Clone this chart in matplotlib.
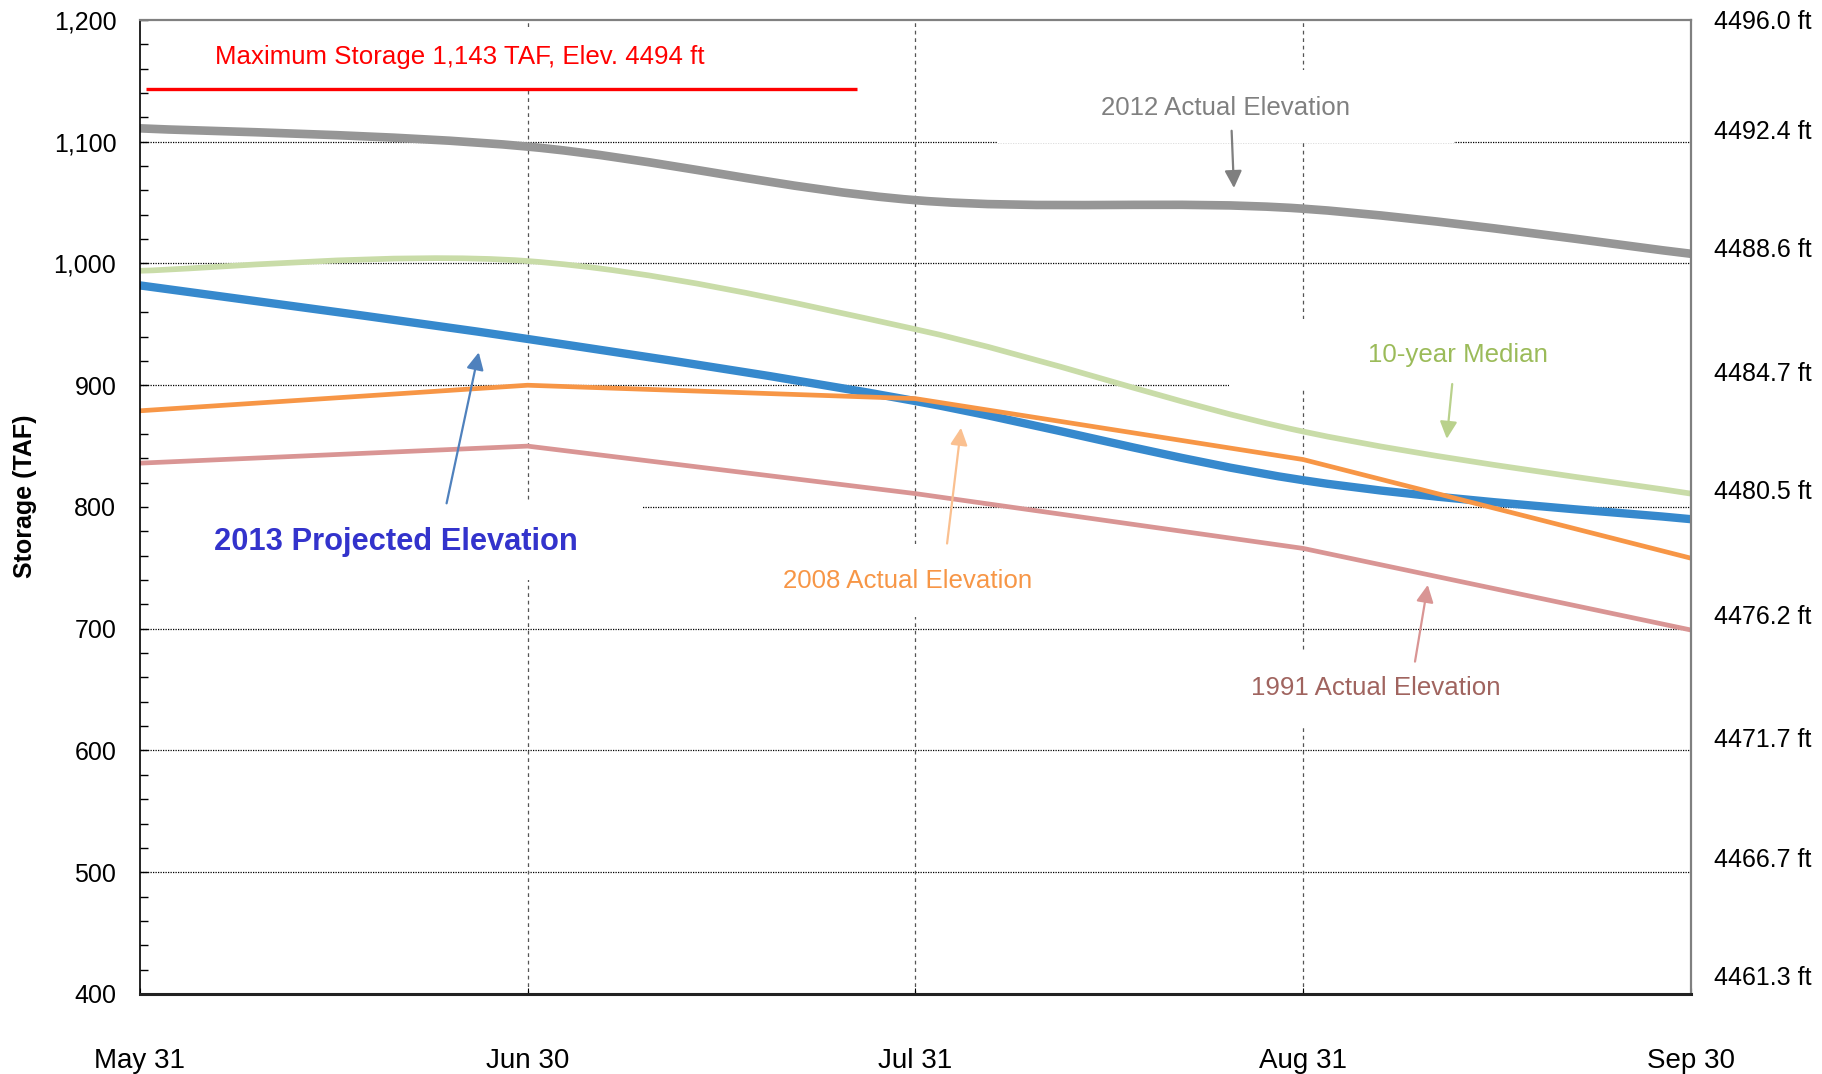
import numpy as np
import matplotlib
matplotlib.use("Agg")
import matplotlib.pyplot as plt
from matplotlib.path import Path
from matplotlib.patches import PathPatch, Rectangle

plt.rcParams['font.family'] = ['Liberation Sans', 'DejaVu Sans']

# data (storage, TAF)
months = ['May 31', 'Jun 30', 'Jul 31', 'Aug 31', 'Sep 30']
proj_2013 = [982, 938, 887, 822, 790]
actual_2012 = [1111, 1096, 1052, 1045, 1008]
median_10yr = [994, 1002, 946, 862, 811]
actual_2008 = [879, 900, 889, 839, 758]
actual_1991 = [836, 850, 811, 766, 699]
max_storage = 1143

storage_ticks = [400, 500, 600, 700, 800, 900, 1000, 1100, 1200]
storage_labels = ['400', '500', '600', '700', '800', '900', '1,000', '1,100', '1,200']
elev_labels = ['4461.3 ft', '4466.7 ft', '4471.7 ft', '4476.2 ft', '4480.5 ft',
               '4484.7 ft', '4488.6 ft', '4492.4 ft', '4496.0 ft']
elev_label_pos = [415, 512, 611, 712, 814, 911, 1013, 1110, 1200]


def smooth_path(xs, ys):
    # excel-style smoothed line (catmull-rom as cubic bezier)
    pts = np.column_stack([xs, ys]).astype(float)
    ext = np.vstack([pts[0], pts, pts[-1]])
    verts = [pts[0]]
    codes = [Path.MOVETO]
    for i in range(len(pts) - 1):
        p0, p1, p2, p3 = ext[i], ext[i + 1], ext[i + 2], ext[i + 3]
        verts += [p1 + (p2 - p0) / 6, p2 - (p3 - p1) / 6, p2]
        codes += [Path.CURVE4] * 3
    return Path(verts, codes)


def arrow(tail, head, color):
    ax.annotate('', xy=head, xytext=tail, zorder=4,
                arrowprops=dict(arrowstyle='-|>', color=color, lw=1.6,
                                mutation_scale=26, shrinkA=0, shrinkB=0))


x = np.arange(len(months))

fig = plt.figure(figsize=(18.22, 10.74), dpi=100)
ax = fig.add_axes([0.0768, 0.0745, 0.8511, 0.9069])

ax.set_xlim(0, 4)
ax.set_ylim(400, 1200)

# grid
for v in storage_ticks[1:-1]:
    ax.axhline(v, color='black', lw=0.9, ls=(0, (1, 1)), zorder=0.5)
for xv in x[1:-1]:
    ax.axvline(xv, color='#555555', lw=0.9, ls=(0, (3, 3)), zorder=0.5)

# white text boxes that break the grid
boxes = [(0.10, 1144, 1.55, 49), (2.21, 1099, 1.18, 60), (2.81, 897, 1.2, 57),
         (-0.1, 740, 1.395, 63), (1.55, 710, 0.87, 60), (2.76, 621, 0.86, 60)]
for bx, by, bw, bh in boxes:
    ax.add_patch(Rectangle((bx, by), bw, bh, facecolor='white', edgecolor='none', zorder=1))

# series
ax.add_patch(PathPatch(smooth_path(x, median_10yr), fill=False, edgecolor='#C9DCA8',
                       lw=4.1, capstyle='butt', joinstyle='round', zorder=2))
ax.add_patch(PathPatch(smooth_path(x, actual_2012), fill=False, edgecolor='#969696',
                       lw=6.2, capstyle='butt', joinstyle='round', zorder=2.1))
ax.plot(x, actual_1991, color='#D99594', lw=3.4, solid_capstyle='butt', zorder=2.2)
ax.add_patch(PathPatch(smooth_path(x, proj_2013), fill=False, edgecolor='#3689CD',
                       lw=6.0, capstyle='butt', joinstyle='round', zorder=2.3))
ax.plot(x, actual_2008, color='#F79646', lw=3.4, solid_capstyle='butt', zorder=2.4)

ax.hlines(max_storage, 0.015, 1.85, color='#FF0000', lw=2.4, zorder=2.5)

# annotations
fs = 18.6
ax.text(0.193, 1170, 'Maximum Storage 1,143 TAF, Elev. 4494 ft', color='#FF0000',
        fontsize=fs, ha='left', va='center', zorder=4)
ax.text(2.80, 1128, '2012 Actual Elevation', color='#808080', fontsize=fs,
        ha='center', va='center', zorder=4)
arrow((2.816, 1109), (2.822, 1062), '#7F7F7F')
ax.text(3.40, 925, '10-year Median', color='#9BBB59', fontsize=fs,
        ha='center', va='center', zorder=4)
arrow((3.385, 901), (3.371, 856), '#B9D18C')
ax.text(0.191, 771, '2013 Projected Elevation', color='#3333CC', fontsize=22.2,
        fontweight='bold', ha='left', va='center', zorder=4)
arrow((0.791, 803), (0.874, 927), '#4F81BD')
ax.text(1.98, 739, '2008 Actual Elevation', color='#F79646', fontsize=fs,
        ha='center', va='center', zorder=4)
arrow((2.082, 770), (2.118, 865), '#FAC090')
ax.text(3.188, 651, '1991 Actual Elevation', color='#A0645F', fontsize=fs,
        ha='center', va='center', zorder=4)
arrow((3.289, 673), (3.322, 736), '#D99594')

# axes styling
ax.set_yticks(storage_ticks)
ax.set_yticklabels(storage_labels)
ax.set_yticks(np.arange(400, 1201, 20), minor=True)
ax.tick_params(axis='y', which='both', direction='in', length=6, width=1,
               labelsize=18, pad=17)
ax.set_xticks(x)
ax.set_xticklabels(months)
ax.tick_params(axis='x', direction='in', length=4, labelsize=20, pad=39)
ax.set_ylabel('Storage (TAF)', fontsize=18, fontweight='bold')
ax.yaxis.set_label_coords(-0.0665, 0.511)

ax.spines['left'].set_color('black')
ax.spines['left'].set_linewidth(1.2)
ax.spines['bottom'].set_color('#222222')
ax.spines['bottom'].set_linewidth(2.2)
ax.spines['top'].set_color('#808080')
ax.spines['top'].set_linewidth(1.6)
ax.spines['right'].set_color('#808080')
ax.spines['right'].set_linewidth(1.6)

ax2 = ax.twinx()
ax2.set_ylim(400, 1200)
ax2.set_yticks(elev_label_pos)
ax2.set_yticklabels(elev_labels)
ax2.tick_params(axis='y', length=0, labelsize=18, pad=17)
for s in ax2.spines.values():
    s.set_visible(False)

fig.savefig('out.png', dpi=100)
